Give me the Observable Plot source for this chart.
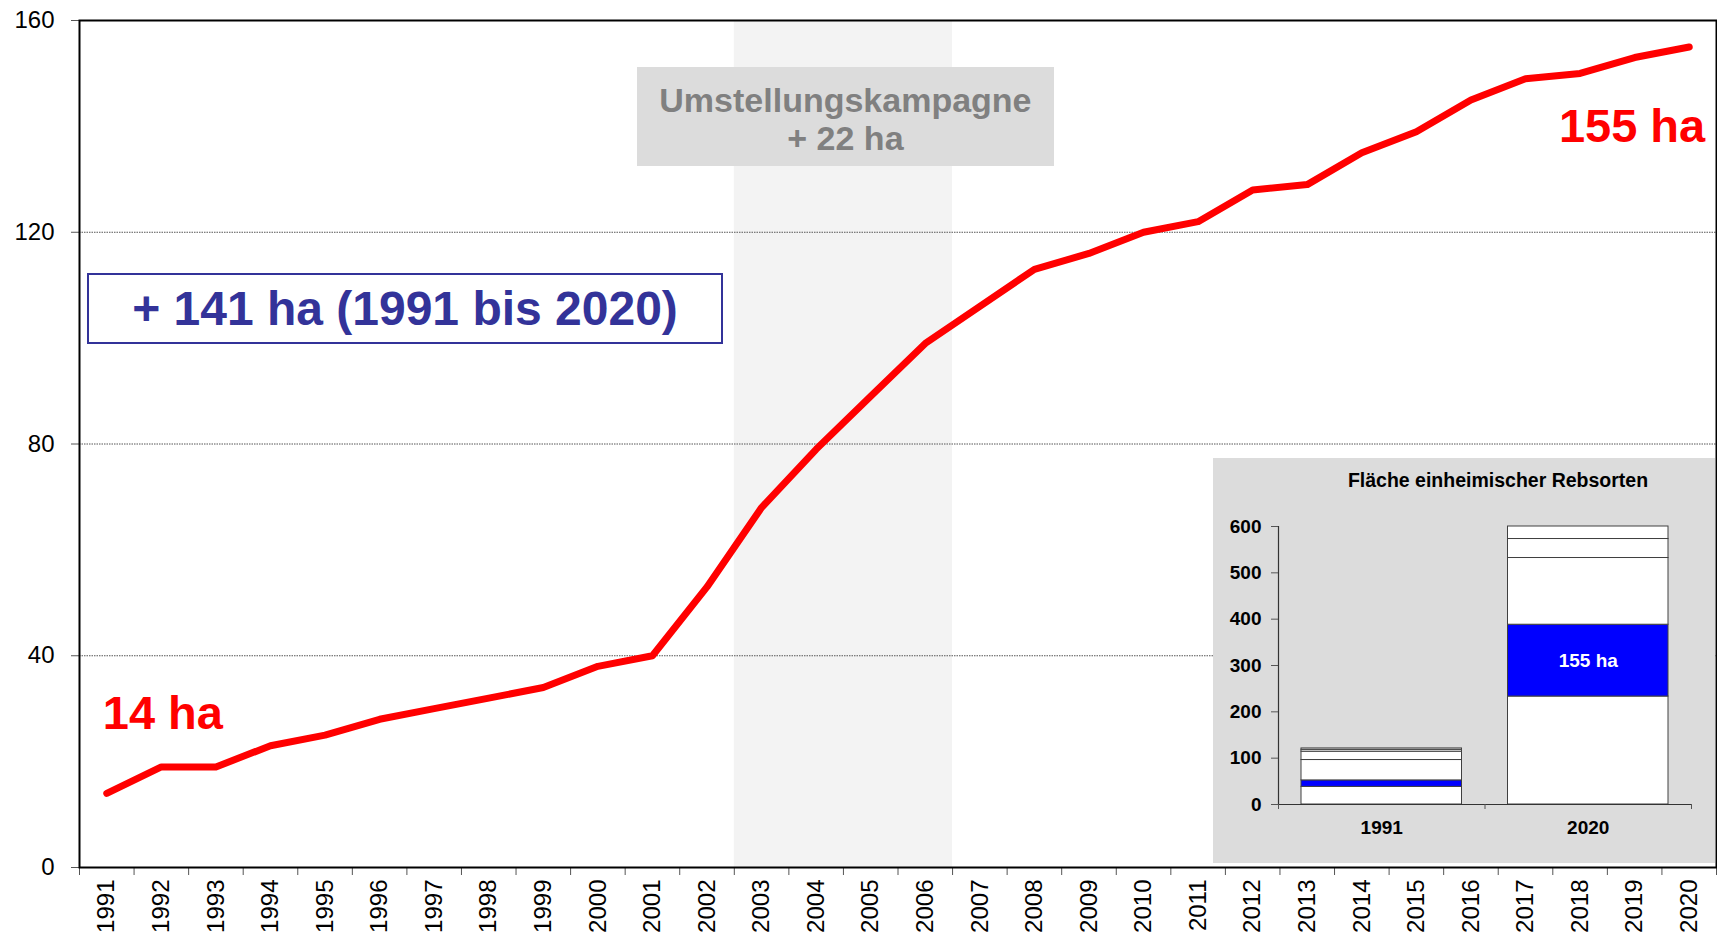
<!DOCTYPE html>
<html><head><meta charset="utf-8">
<script src="https://cdn.jsdelivr.net/npm/d3@7"></script>
<script src="https://cdn.jsdelivr.net/npm/@observablehq/plot@0.6"></script>
<style>
html,body{margin:0;padding:0;background:#fff;}
#wrap{position:relative;width:1717px;height:939px;overflow:hidden;background:#fff;}
#wrap svg{display:block;}
.abs{position:absolute;box-sizing:border-box;font-family:'Liberation Sans',Arial,sans-serif;font-weight:bold;text-align:center;}
</style></head><body><div id="wrap"></div>
<script>
// ---- data ----
const years = [1991,1992,1993,1994,1995,1996,1997,1998,1999,2000,2001,2002,2003,2004,2005,2006,2007,2008,2009,2010,2011,2012,2013,2014,2015,2016,2017,2018,2019,2020];
const areaHa = [14,19,19,23,25,28,30,32,34,38,40,53,68,79,89,99,106,113,116,120,122,128,129,135,139,145,149,150,153,155];
const yTicks = [0,40,80,120,160];
const campaign = [2003, 2006];
const campaignLabel = ["Umstellungskampagne", "+ 22 ha"];
const totalLabel = "+ 141 ha (1991 bis 2020)";
const insetTitle = "Fläche einheimischer Rebsorten";
const insetYears = ["1991", "2020"];
const inset1991 = [38, 14, 44, 18, 4, 3];
const inset2020 = [233, 155, 144, 41, 27];
const insetTicks = [0,100,200,300,400,500,600];
const nativeIndex = 1;

// ---- main chart ----
const FONT = "'Liberation Sans', Arial, sans-serif";
const data = years.map((year, i) => ({year, ha: areaHa[i]}));
const bounds = [...years.map(y => y - 0.5), years[years.length - 1] + 0.5];
const yMax = yTicks[yTicks.length - 1];

const main = Plot.plot({
  width: 1717, height: 939,
  marginLeft: 79, marginRight: 1, marginTop: 20, marginBottom: 72,
  style: {fontFamily: FONT, background: "transparent", color: "#000", overflow: "visible"},
  x: {type: "linear", domain: [bounds[0], bounds[bounds.length - 1]]},
  y: {domain: [0, yMax]},
  marks: [
    Plot.rect([campaign], {x1: d => d[0] - 0.5, x2: d => d[1] + 0.5, y1: 0, y2: yMax, fill: "#f3f3f3"}),
    Plot.ruleY(yTicks.slice(1, -1), {stroke: "#555", strokeWidth: 1, strokeDasharray: "1.5,1"}),
    Plot.axisY({ticks: yTicks, tickSize: 8, tickPadding: 17, fontSize: 24, label: null, stroke: "#555"}),
    Plot.axisX({ticks: bounds, tickSize: 8, tickFormat: () => "", label: null, stroke: "#555"}),
    Plot.axisX({ticks: years, tickSize: 0, tickPadding: 12, tickRotate: -90, tickFormat: d => String(d), fontSize: 24, label: null}),
    Plot.line(data, {x: "year", y: "ha", stroke: "#ff0000", strokeWidth: 7, strokeLinecap: "round", strokeLinejoin: "round"}),
    Plot.text(data.slice(0, 1), {x: "year", y: "ha", text: d => `${d.ha} ha`, textAnchor: "start", lineAnchor: "bottom", dx: -4, dy: -64, fill: "#ff0000", fontSize: 47, fontWeight: "bold"}),
    Plot.text(data.slice(-1), {x: "year", y: "ha", text: d => `${d.ha} ha`, textAnchor: "end", lineAnchor: "bottom", dx: 16, dy: 95, fill: "#ff0000", fontSize: 47, fontWeight: "bold"}),
    Plot.frame({stroke: "#000", strokeWidth: 2})
  ]
});

// ---- inset chart ----
const insetRows = [];
[inset1991, inset2020].forEach((vals, i) => {
  const cs = d3.cumsum(vals);
  vals.forEach((v, j) => insetRows.push({i, j, value: v, y1: cs[j] - v, y2: cs[j]}));
});
const inset = Plot.plot({
  width: 502, height: 405,
  marginLeft: 65, marginTop: 68, marginRight: 24, marginBottom: 59,
  style: {fontFamily: FONT, background: "#dcdcdc", color: "#000", fontWeight: "bold"},
  x: {type: "linear", domain: [0, insetYears.length]},
  y: {domain: [0, insetTicks[insetTicks.length - 1]]},
  marks: [
    Plot.rect(insetRows, {x1: d => d.i, x2: d => d.i + 1, y1: "y1", y2: "y2",
      fill: d => d.j === nativeIndex ? "#0000ff" : "#ffffff", stroke: "#404040", strokeWidth: 1,
      insetLeft: 23, insetRight: 23}),
    Plot.ruleX([0], {stroke: "#333", strokeWidth: 1.2}),
    Plot.ruleY([0], {stroke: "#333", strokeWidth: 1.2}),
    Plot.axisY({ticks: insetTicks, tickSize: 7, tickPadding: 10, fontSize: 19, fontWeight: "bold", label: null, stroke: "#555"}),
    Plot.axisX({ticks: d3.range(insetYears.length + 1), tickSize: 5, tickFormat: () => "", label: null, stroke: "#555"}),
    Plot.axisX({ticks: insetYears.map((_, i) => i + 0.5), tickSize: 0, tickPadding: 16, tickFormat: d => insetYears[Math.floor(d)], fontSize: 19, fontWeight: "bold", label: null}),
    Plot.text(insetRows.filter(d => d.j === nativeIndex && d.i === insetYears.length - 1),
      {x: d => d.i + 0.5, y: d => (d.y1 + d.y2) / 2, text: d => `${d.value} ha`, fill: "#fff", fontSize: 19, fontWeight: "bold"}),
    Plot.text([insetTitle], {frameAnchor: "top", text: d => d, lineAnchor: "bottom", dx: 13, dy: -40, fontSize: 19.5, fontWeight: "bold"})
  ]
});

// ---- assemble ----
const wrap = document.getElementById("wrap");
wrap.append(main);
inset.style.position = "absolute";
inset.style.left = "1213px";
inset.style.top = "458px";
wrap.append(inset);

// campaign annotation box, centered on the campaign period
const cx = main.scale("x").apply(d3.mean(campaign));
const box1 = document.createElement("div");
box1.className = "abs";
Object.assign(box1.style, {left: (cx - 206) + "px", top: "67px", width: "417px", height: "99px",
  background: "#dcdcdc", color: "#808080", fontSize: "34px", lineHeight: "38px", paddingTop: "14px"});
box1.innerHTML = campaignLabel.map(s => `<div>${s}</div>`).join("");
wrap.append(box1);

// total increase box
const box2 = document.createElement("div");
box2.className = "abs";
Object.assign(box2.style, {left: "87px", top: "273px", width: "636px", height: "71px",
  border: "2px solid #333399", background: "#fff", color: "#333399", fontSize: "48px", lineHeight: "67px"});
box2.textContent = totalLabel;
wrap.append(box2);
</script></body></html>
